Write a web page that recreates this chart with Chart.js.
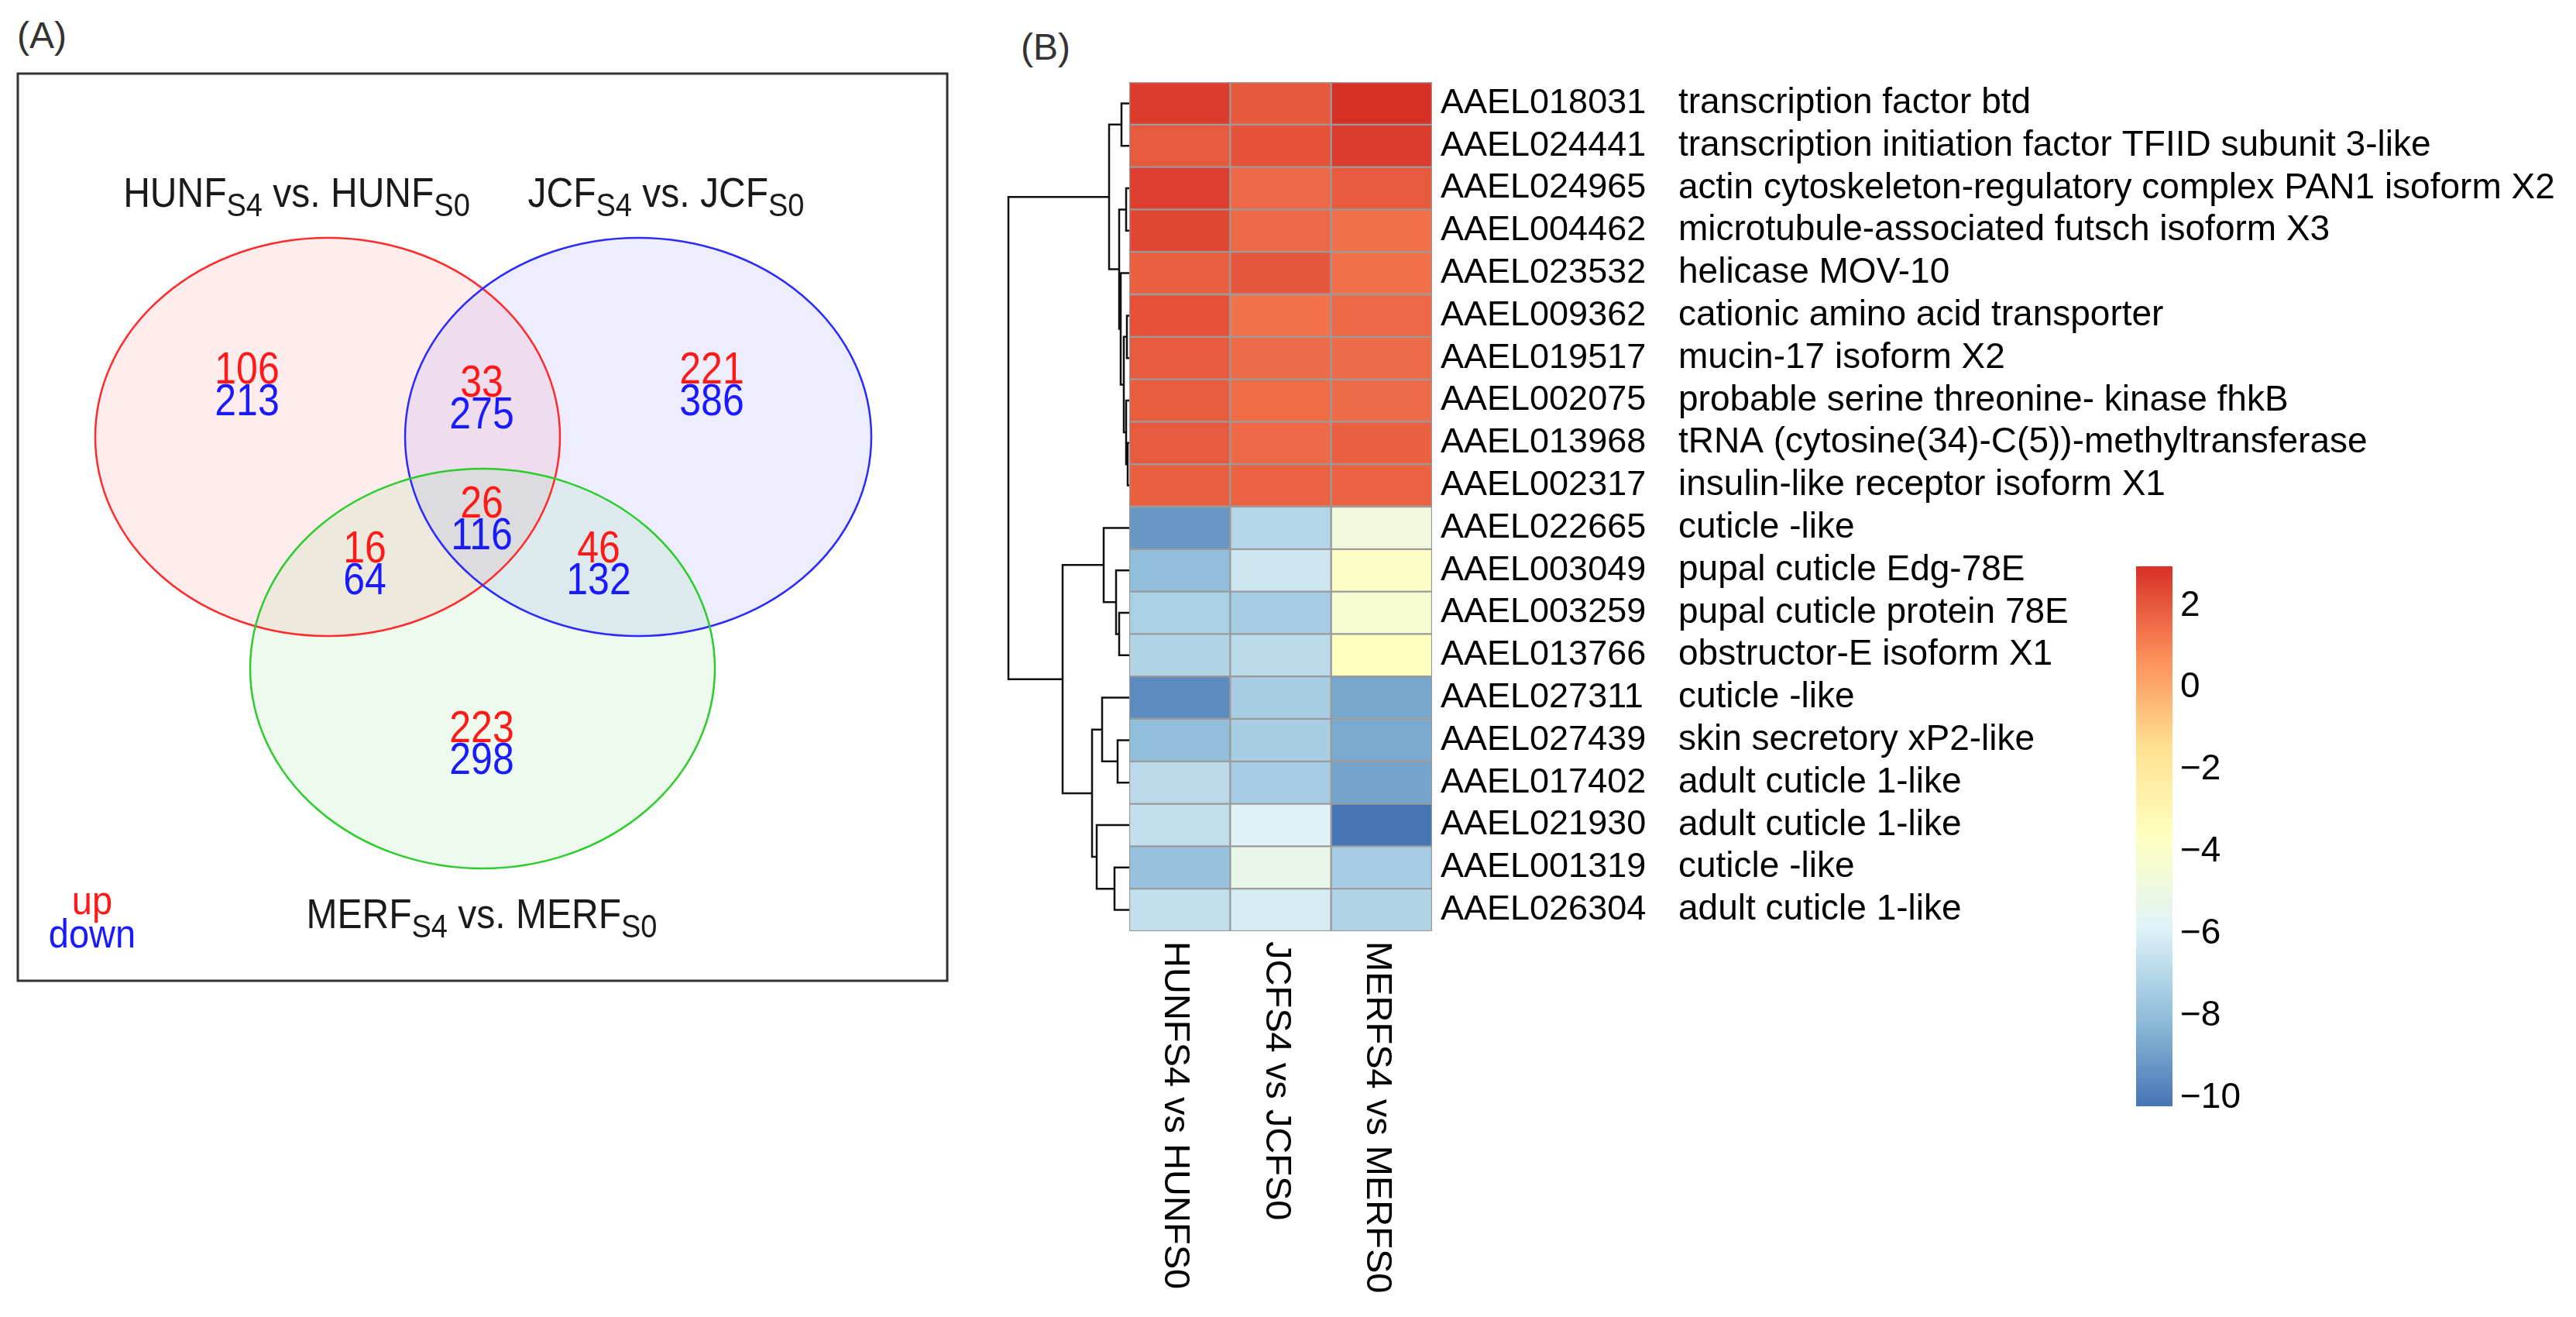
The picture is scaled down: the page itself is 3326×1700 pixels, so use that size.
<!DOCTYPE html>
<html>
<head>
<meta charset="utf-8">
<script src="https://cdn.jsdelivr.net/npm/chart.js@4.4.1/dist/chart.umd.min.js"></script>
<style>
  body { margin: 0; background: #fff; width: 3326px; height: 1700px; position: relative; overflow: hidden;
         font-family: "Liberation Sans", Arial, sans-serif; }
  canvas { position: absolute; }
  .tag { position: absolute; font-size: 48px; line-height: 1; color: #333; }
</style>
</head>
<body>
<div class="tag" style="left:22px;top:22px">(A)</div>
<div class="tag" style="left:1318px;top:37px">(B)</div>
<canvas id="venn" style="left:0;top:0" width="1280" height="1700"></canvas>
<canvas id="heat" style="left:1280px;top:0" width="2046" height="1700"></canvas>
<canvas id="scale" style="left:2700px;top:650px" width="300" height="850"></canvas>
<script>
/* ---- Venn (A) data ---- */
const vennSets = ["HUNF", "JCF", "MERF"];
const stages = ["S4", "S0"];
const regions = ["HUNF only", "HUNF & JCF", "JCF only", "all three", "HUNF & MERF", "JCF & MERF", "MERF only"];
const upCounts = [106, 33, 221, 26, 16, 46, 223];
const downCounts = [213, 275, 386, 116, 64, 132, 298];

/* ---- heatmap (B) data ---- */
const genes = ["AAEL018031", "AAEL024441", "AAEL024965", "AAEL004462", "AAEL023532",
  "AAEL009362", "AAEL019517", "AAEL002075", "AAEL013968", "AAEL002317",
  "AAEL022665", "AAEL003049", "AAEL003259", "AAEL013766", "AAEL027311",
  "AAEL027439", "AAEL017402", "AAEL021930", "AAEL001319", "AAEL026304"];
const descriptions = ["transcription factor btd", "transcription initiation factor TFIID subunit 3-like",
  "actin cytoskeleton-regulatory complex PAN1 isoform X2", "microtubule-associated futsch isoform X3",
  "helicase MOV-10", "cationic amino acid transporter", "mucin-17 isoform X2",
  "probable serine threonine- kinase fhkB", "tRNA (cytosine(34)-C(5))-methyltransferase",
  "insulin-like receptor isoform X1", "cuticle -like", "pupal cuticle Edg-78E",
  "pupal cuticle protein 78E", "obstructor-E isoform X1", "cuticle -like",
  "skin secretory xP2-like", "adult cuticle 1-like", "adult cuticle 1-like",
  "cuticle -like", "adult cuticle 1-like"];
const comparisons = ["HUNFS4 vs HUNFS0", "JCFS4 vs JCFS0", "MERFS4 vs MERFS0"];
const hunf = [2.68, 1.97, 2.63, 2.44, 1.85, 2.21, 1.97, 1.90, 1.97, 1.85,
  -9.19, -8.00, -7.31, -7.10, -9.54, -8.01, -6.87, -6.70, -7.87, -6.70];
const jcf = [2.02, 2.15, 1.62, 1.64, 2.04, 1.38, 1.57, 1.55, 1.60, 1.78,
  -7.05, -6.35, -7.46, -6.85, -7.40, -7.37, -7.46, -5.87, -5.25, -6.10];
const merf = [2.96, 2.68, 1.97, 1.45, 1.45, 1.64, 1.57, 1.57, 1.83, 1.78,
  -4.68, -3.85, -4.27, -3.63, -8.73, -8.67, -8.82, -10.20, -7.46, -7.15];
// row clustering, hclust style: negative = row, positive = earlier merge; [a, b, height]
const merges = [[-1, -2, 1.0], [-3, -4, 0.4], [-9, -10, 0.2], [-8, 3, 0.4], [-6, -7, 0.3],
  [5, 4, 0.7], [-5, 6, 1.1], [2, 7, 1.3], [1, 8, 2.6], [-13, -14, 1.3], [-12, 10, 1.7],
  [-11, 11, 3.3], [-16, -17, 1.5], [-15, 13, 3.5], [-19, -20, 1.9], [-18, 15, 4.2],
  [14, 16, 4.8], [12, 17, 8.6], [9, 18, 15.6]];
const legendTicks = [2, 0, -2, -4, -6, -8, -10];

const FONT = '"Liberation Sans", Arial, sans-serif';
Chart.defaults.font.family = FONT;

/* colour ramp: rev(RdYlBu 7) like pheatmap */
const palette = ["#4575B4", "#91BFDB", "#E0F3F8", "#FFFFBF", "#FEE090", "#FC8D59", "#D73027"];
const columns = [hunf, jcf, merf];
const allVals = columns.flat();
const vmin = Math.min(...allVals), vmax = Math.max(...allVals);
function hexRgb(h) { return [1, 3, 5].map(i => parseInt(h.substr(i, 2), 16)); }
function valueColor(v) {
  let t = (v - vmin) / (vmax - vmin) * (palette.length - 1);
  let i = Math.min(Math.floor(t), palette.length - 2);
  let f = t - i;
  let a = hexRgb(palette[i]), b = hexRgb(palette[i + 1]);
  let c = a.map((x, k) => Math.round(x + (b[k] - x) * f));
  return "rgb(" + c.join(",") + ")";
}

/* ---------------- (A) venn ---------------- */
const vennLayout = {
  ellipses: [
    { cx: 4.00, cy: 4.69, rx: 3.00, ry: 2.57, stroke: "#ff2b2b", fill: "rgba(255,0,0,0.07)" },
    { cx: 8.01, cy: 4.69, rx: 3.01, ry: 2.57, stroke: "#2b2bff", fill: "rgba(0,0,255,0.07)" },
    { cx: 6.00, cy: 7.68, rx: 3.00, ry: 2.58, stroke: "#2bcc2b", fill: "rgba(0,190,0,0.07)" }
  ],
  anchors: [[2.96, 4.00], [5.99, 4.17], [8.96, 4.00], [5.99, 5.73], [4.48, 6.31], [7.50, 6.31], [5.99, 8.63]],
  titles: [[3.60, 1.72], [8.37, 1.72], [5.99, 11.03]],
  key: [0.96, 10.85]
};

function stretched(ctx, txt, x, y, sy) {
  ctx.save();
  ctx.translate(x, y);
  ctx.scale(1, sy);
  ctx.fillText(txt, 0, 0);
  ctx.restore();
}

const vennPlugin = {
  id: "vennPlugin",
  beforeDatasetsDraw(chart) {
    const { ctx, chartArea: a, scales: { x, y } } = chart;
    ctx.save();
    vennLayout.ellipses.forEach(e => {
      const px = x.getPixelForValue(e.cx), py = y.getPixelForValue(e.cy);
      const rx = x.getPixelForValue(e.cx + e.rx) - px, ry = y.getPixelForValue(e.cy + e.ry) - py;
      ctx.beginPath();
      ctx.ellipse(px, py, rx, ry, 0, 0, Math.PI * 2);
      ctx.fillStyle = e.fill;
      ctx.fill();
    });
    vennLayout.ellipses.forEach(e => {
      const px = x.getPixelForValue(e.cx), py = y.getPixelForValue(e.cy);
      const rx = x.getPixelForValue(e.cx + e.rx) - px, ry = y.getPixelForValue(e.cy + e.ry) - py;
      ctx.beginPath();
      ctx.ellipse(px, py, rx, ry, 0, 0, Math.PI * 2);
      ctx.strokeStyle = e.stroke;
      ctx.lineWidth = 2.5;
      ctx.stroke();
    });
    ctx.strokeStyle = "#333";
    ctx.lineWidth = 3;
    ctx.strokeRect(a.left, a.top, a.width, a.height);
    ctx.restore();
  },
  afterDatasetsDraw(chart) {
    const { ctx, scales: { x, y } } = chart;
    const meta = chart.getDatasetMeta(0);
    ctx.save();
    ctx.textAlign = "center";
    ctx.textBaseline = "alphabetic";
    ctx.font = "50px " + FONT;
    meta.data.forEach((pt, i) => {
      ctx.fillStyle = "#ff1a1a";
      stretched(ctx, String(upCounts[i]), pt.x, pt.y, 1.15);
      ctx.fillStyle = "#1a1aff";
      stretched(ctx, String(downCounts[i]), pt.x, pt.y + 41, 1.15);
    });
    // set titles with subscripts
    ctx.textAlign = "left";
    ctx.fillStyle = "#1a1a1a";
    vennSets.forEach((name, i) => {
      const parts = [[name, false], [stages[0], true], [" vs. " + name, false], [stages[1], true]];
      const fontFor = sub => (sub ? "38px " : "48px ") + FONT;
      let w = 0;
      parts.forEach(([t, sub]) => { ctx.font = fontFor(sub); w += ctx.measureText(t).width; });
      let cx = x.getPixelForValue(vennLayout.titles[i][0]) - w / 2;
      const by = y.getPixelForValue(vennLayout.titles[i][1]);
      parts.forEach(([t, sub]) => {
        ctx.font = fontFor(sub);
        stretched(ctx, t, cx, by + (sub ? 12 : 0), 1.1);
        cx += ctx.measureText(t).width;
      });
    });
    // up / down key
    ctx.textAlign = "center";
    ctx.font = "47px " + FONT;
    const kx = x.getPixelForValue(vennLayout.key[0]), ky = y.getPixelForValue(vennLayout.key[1]);
    ctx.fillStyle = "#ff1a1a";
    stretched(ctx, "up", kx, ky, 1.12);
    ctx.fillStyle = "#1a1aff";
    stretched(ctx, "down", kx, ky + 43, 1.12);
    ctx.restore();
  }
};

new Chart(document.getElementById("venn"), {
  type: "scatter",
  data: { datasets: [{ label: "regions", data: vennLayout.anchors.map(([x, y]) => ({ x, y })), pointRadius: 0 }] },
  options: {
    responsive: false, animation: false, devicePixelRatio: 1,
    layout: { padding: { left: 23, top: 95, right: 57, bottom: 434 } },
    plugins: { legend: { display: false }, tooltip: { enabled: false } },
    scales: {
      x: { type: "linear", min: 0, max: 12, display: false },
      y: { type: "linear", min: 0, max: 11.71, reverse: true, display: false }
    }
  },
  plugins: [vennPlugin]
});

/* ---------------- (B) heatmap ---------------- */
const heatExtras = {
  id: "heatExtras",
  afterDraw(chart) {
    const { ctx, chartArea: a, scales: { x, y } } = chart;
    ctx.save();
    // dendrogram
    const maxH = Math.max(...merges.map(m => m[2]));
    const k = 156 / maxH;
    const nodes = [];
    const node = r => r < 0 ? { x: a.left, y: y.getPixelForValue(-r - 1) } : nodes[r - 1];
    ctx.strokeStyle = "#111";
    ctx.lineWidth = 2.5;
    merges.forEach(([p, q, h]) => {
      const A = node(p), B = node(q), xh = a.left - h * k;
      ctx.beginPath();
      ctx.moveTo(A.x, A.y);
      ctx.lineTo(xh, A.y);
      ctx.lineTo(xh, B.y);
      ctx.lineTo(B.x, B.y);
      ctx.stroke();
      nodes.push({ x: xh, y: (A.y + B.y) / 2 });
    });
    // column labels, rotated
    ctx.fillStyle = "#000";
    ctx.font = "47px " + FONT;
    ctx.textAlign = "left";
    ctx.textBaseline = "middle";
    comparisons.forEach((lab, c) => {
      ctx.save();
      ctx.translate(x.getPixelForValue(c + 0.5) - 6, a.bottom + 13);
      ctx.rotate(Math.PI / 2);
      ctx.fillText(lab, 0, 0);
      ctx.restore();
    });
    ctx.restore();
  }
};

const heatSets = comparisons.map((name, c) => ({
  label: name,
  data: genes.map(() => [c, c + 1]),
  backgroundColor: columns[c].map(valueColor),
  borderColor: "#9a9a9a",
  borderWidth: 1.5,
  borderSkipped: false,
  grouped: false,
  barPercentage: 1,
  categoryPercentage: 1
}));

new Chart(document.getElementById("heat"), {
  type: "bar",
  data: { labels: genes, datasets: heatSets },
  options: {
    indexAxis: "y", responsive: false, animation: false, devicePixelRatio: 1,
    layout: { padding: { left: 178, top: 106, right: 9, bottom: 498 } },
    plugins: { legend: { display: false }, tooltip: { enabled: false } },
    scales: {
      x: { type: "linear", min: 0, max: 3, display: false },
      y: {
        type: "category", position: "right", offset: true, weight: 0,
        grid: { display: false, drawTicks: false }, border: { display: false },
        ticks: { color: "#000", font: { size: 45 }, padding: 11, autoSkip: false },
        afterFit: s => { s.width = 318; }
      },
      y2: {
        type: "category", labels: descriptions, position: "right", offset: true, weight: 1,
        grid: { display: false, drawTicks: false }, border: { display: false },
        ticks: { color: "#000", font: { size: 46 }, padding: 0, autoSkip: false },
        afterFit: s => { s.width = 1150; }
      }
    }
  },
  plugins: [heatExtras]
});

/* ---------------- colour key ---------------- */
new Chart(document.getElementById("scale"), {
  type: "bar",
  data: {
    labels: [""],
    datasets: [{
      data: [[vmin, vmax]],
      backgroundColor: c => {
        const ch = c.chart;
        if (!ch.chartArea) return palette[3];
        const ys = ch.scales.y;
        const g = ch.ctx.createLinearGradient(0, ys.getPixelForValue(vmin), 0, ys.getPixelForValue(vmax));
        palette.forEach((col, i) => g.addColorStop(i / (palette.length - 1), col));
        return g;
      },
      borderWidth: 0, barPercentage: 1, categoryPercentage: 1
    }]
  },
  options: {
    responsive: false, animation: false, devicePixelRatio: 1,
    layout: { padding: { left: 58, top: 81, right: 0, bottom: 72 } },
    plugins: { legend: { display: false }, tooltip: { enabled: false } },
    scales: {
      x: { display: false },
      y: {
        min: vmin, max: vmax, position: "right",
        grid: { display: false, drawTicks: false }, border: { display: false },
        afterBuildTicks: s => { s.ticks = legendTicks.map(v => ({ value: v })); },
        afterFit: s => { s.width = 195; },
        ticks: {
          padding: 10, color: "#000", font: { size: 46 },
          callback: v => v < 0 ? "\u2212" + Math.abs(v) : String(v)
        }
      }
    }
  }
});
</script>
</body>
</html>
